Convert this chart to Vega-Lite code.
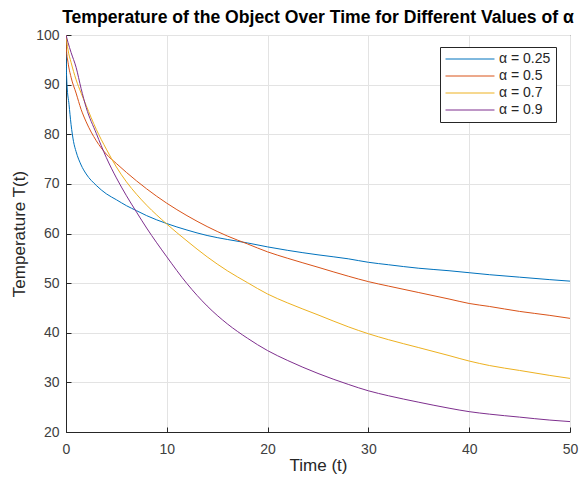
{
  "$schema": "https://vega.github.io/schema/vega-lite/v6.json",
  "autosize": {"type": "none"},
  "padding": {"left": 66, "top": 35, "right": 12, "bottom": 45},
  "width": 504,
  "height": 397,
  "background": "white",
  "config": {
    "font": "Liberation Sans",
    "view": {"stroke": "#262626", "strokeWidth": 1},
    "axis": {
      "gridColor": "#e3e3e3",
      "gridWidth": 1,
      "domainColor": "#262626",
      "tickColor": "#262626",
      "labelColor": "#404040",
      "titleColor": "#262626",
      "labelFontSize": 14,
      "titleFontSize": 17,
      "titleFontWeight": "normal",
      "labelFont": "Liberation Sans",
      "titleFont": "Liberation Sans",
      "labelFlush": false
    }
  },
  "title": {
    "text": "Temperature of the Object Over Time for Different Values of α",
    "fontSize": 17.6,
    "fontWeight": "bold",
    "font": "Liberation Sans",
    "color": "#000000",
    "anchor": "middle",
    "offset": 1
  },
  "data": {
    "values": [
      {"a": "α = 0.25", "t": 0, "T": 100},
      {"a": "α = 0.25", "t": 0.02, "T": 95},
      {"a": "α = 0.25", "t": 0.1, "T": 90},
      {"a": "α = 0.25", "t": 0.3, "T": 86},
      {"a": "α = 0.25", "t": 0.5, "T": 82},
      {"a": "α = 0.25", "t": 0.75, "T": 78.5},
      {"a": "α = 0.25", "t": 1, "T": 76.5},
      {"a": "α = 0.25", "t": 1.5, "T": 73.8},
      {"a": "α = 0.25", "t": 2, "T": 72},
      {"a": "α = 0.25", "t": 3, "T": 69.7},
      {"a": "α = 0.25", "t": 4, "T": 68},
      {"a": "α = 0.25", "t": 5, "T": 66.8},
      {"a": "α = 0.25", "t": 6, "T": 65.6},
      {"a": "α = 0.25", "t": 7, "T": 64.6},
      {"a": "α = 0.25", "t": 8, "T": 63.6},
      {"a": "α = 0.25", "t": 10, "T": 62},
      {"a": "α = 0.25", "t": 12, "T": 60.7},
      {"a": "α = 0.25", "t": 14, "T": 59.6},
      {"a": "α = 0.25", "t": 16, "T": 58.8},
      {"a": "α = 0.25", "t": 18, "T": 58.1},
      {"a": "α = 0.25", "t": 20, "T": 57.3},
      {"a": "α = 0.25", "t": 22, "T": 56.6},
      {"a": "α = 0.25", "t": 25, "T": 55.7},
      {"a": "α = 0.25", "t": 28, "T": 54.9},
      {"a": "α = 0.25", "t": 30, "T": 54.2},
      {"a": "α = 0.25", "t": 32, "T": 53.7},
      {"a": "α = 0.25", "t": 35, "T": 53},
      {"a": "α = 0.25", "t": 38, "T": 52.5},
      {"a": "α = 0.25", "t": 40, "T": 52.1},
      {"a": "α = 0.25", "t": 42, "T": 51.7},
      {"a": "α = 0.25", "t": 45, "T": 51.2},
      {"a": "α = 0.25", "t": 48, "T": 50.7},
      {"a": "α = 0.25", "t": 50, "T": 50.4},

      {"a": "α = 0.5", "t": 0, "T": 100},
      {"a": "α = 0.5", "t": 0.05, "T": 97},
      {"a": "α = 0.5", "t": 0.2, "T": 94.5},
      {"a": "α = 0.5", "t": 0.5, "T": 91.5},
      {"a": "α = 0.5", "t": 1, "T": 88.3},
      {"a": "α = 0.5", "t": 1.5, "T": 85},
      {"a": "α = 0.5", "t": 2, "T": 82.5},
      {"a": "α = 0.5", "t": 3, "T": 78.7},
      {"a": "α = 0.5", "t": 4, "T": 76.0},
      {"a": "α = 0.5", "t": 5, "T": 74.1},
      {"a": "α = 0.5", "t": 6, "T": 72.3},
      {"a": "α = 0.5", "t": 7, "T": 70.6},
      {"a": "α = 0.5", "t": 8, "T": 69.0},
      {"a": "α = 0.5", "t": 10, "T": 66.1},
      {"a": "α = 0.5", "t": 12, "T": 63.6},
      {"a": "α = 0.5", "t": 14, "T": 61.4},
      {"a": "α = 0.5", "t": 16, "T": 59.5},
      {"a": "α = 0.5", "t": 18, "T": 57.9},
      {"a": "α = 0.5", "t": 20, "T": 56.3},
      {"a": "α = 0.5", "t": 22, "T": 55},
      {"a": "α = 0.5", "t": 25, "T": 53.2},
      {"a": "α = 0.5", "t": 28, "T": 51.4},
      {"a": "α = 0.5", "t": 30, "T": 50.3},
      {"a": "α = 0.5", "t": 32, "T": 49.4},
      {"a": "α = 0.5", "t": 35, "T": 48.1},
      {"a": "α = 0.5", "t": 38, "T": 46.8},
      {"a": "α = 0.5", "t": 40, "T": 45.9},
      {"a": "α = 0.5", "t": 42, "T": 45.3},
      {"a": "α = 0.5", "t": 45, "T": 44.3},
      {"a": "α = 0.5", "t": 48, "T": 43.5},
      {"a": "α = 0.5", "t": 50, "T": 42.9},

      {"a": "α = 0.7", "t": 0, "T": 100},
      {"a": "α = 0.7", "t": 0.2, "T": 97},
      {"a": "α = 0.7", "t": 0.5, "T": 94.5},
      {"a": "α = 0.7", "t": 1, "T": 91},
      {"a": "α = 0.7", "t": 1.5, "T": 88.3},
      {"a": "α = 0.7", "t": 2, "T": 85.8},
      {"a": "α = 0.7", "t": 3, "T": 81},
      {"a": "α = 0.7", "t": 4, "T": 77},
      {"a": "α = 0.7", "t": 5, "T": 73.4},
      {"a": "α = 0.7", "t": 6, "T": 70.4},
      {"a": "α = 0.7", "t": 7, "T": 67.9},
      {"a": "α = 0.7", "t": 8, "T": 65.7},
      {"a": "α = 0.7", "t": 10, "T": 61.9},
      {"a": "α = 0.7", "t": 12, "T": 58.5},
      {"a": "α = 0.7", "t": 14, "T": 55.3},
      {"a": "α = 0.7", "t": 16, "T": 52.5},
      {"a": "α = 0.7", "t": 18, "T": 50.1},
      {"a": "α = 0.7", "t": 20, "T": 47.8},
      {"a": "α = 0.7", "t": 22, "T": 46},
      {"a": "α = 0.7", "t": 25, "T": 43.6},
      {"a": "α = 0.7", "t": 28, "T": 41.2},
      {"a": "α = 0.7", "t": 30, "T": 39.8},
      {"a": "α = 0.7", "t": 32, "T": 38.6},
      {"a": "α = 0.7", "t": 35, "T": 37},
      {"a": "α = 0.7", "t": 38, "T": 35.4},
      {"a": "α = 0.7", "t": 40, "T": 34.3},
      {"a": "α = 0.7", "t": 42, "T": 33.4},
      {"a": "α = 0.7", "t": 45, "T": 32.4},
      {"a": "α = 0.7", "t": 48, "T": 31.4},
      {"a": "α = 0.7", "t": 50, "T": 30.8},

      {"a": "α = 0.9", "t": 0, "T": 100},
      {"a": "α = 0.9", "t": 0.2, "T": 98.5},
      {"a": "α = 0.9", "t": 0.5, "T": 96.5},
      {"a": "α = 0.9", "t": 1, "T": 93.5},
      {"a": "α = 0.9", "t": 1.5, "T": 89.2},
      {"a": "α = 0.9", "t": 2, "T": 85.4},
      {"a": "α = 0.9", "t": 3, "T": 80.2},
      {"a": "α = 0.9", "t": 4, "T": 75.3},
      {"a": "α = 0.9", "t": 5, "T": 71.2},
      {"a": "α = 0.9", "t": 6, "T": 67.6},
      {"a": "α = 0.9", "t": 7, "T": 64.3},
      {"a": "α = 0.9", "t": 8, "T": 61.1},
      {"a": "α = 0.9", "t": 10, "T": 55.3},
      {"a": "α = 0.9", "t": 12, "T": 49.9},
      {"a": "α = 0.9", "t": 14, "T": 45.4},
      {"a": "α = 0.9", "t": 16, "T": 41.8},
      {"a": "α = 0.9", "t": 18, "T": 38.9},
      {"a": "α = 0.9", "t": 20, "T": 36.4},
      {"a": "α = 0.9", "t": 22, "T": 34.4},
      {"a": "α = 0.9", "t": 25, "T": 31.8},
      {"a": "α = 0.9", "t": 28, "T": 29.6},
      {"a": "α = 0.9", "t": 30, "T": 28.3},
      {"a": "α = 0.9", "t": 32, "T": 27.3},
      {"a": "α = 0.9", "t": 35, "T": 26},
      {"a": "α = 0.9", "t": 38, "T": 24.8},
      {"a": "α = 0.9", "t": 40, "T": 24.1},
      {"a": "α = 0.9", "t": 42, "T": 23.6},
      {"a": "α = 0.9", "t": 45, "T": 23},
      {"a": "α = 0.9", "t": 48, "T": 22.4},
      {"a": "α = 0.9", "t": 50, "T": 22.1}
    ]
  },
  "mark": {"type": "line", "strokeWidth": 1, "interpolate": "monotone", "clip": true},
  "encoding": {
    "x": {
      "field": "t", "type": "quantitative",
      "scale": {"domain": [0, 50], "nice": false, "zero": false},
      "axis": {"title": "Time (t)", "values": [0, 10, 20, 30, 40, 50], "tickSize": -5, "labelPadding": 15, "titlePadding": 1}
    },
    "y": {
      "field": "T", "type": "quantitative",
      "scale": {"domain": [20, 100], "nice": false, "zero": false},
      "axis": {"title": "Temperature T(t)", "values": [20, 30, 40, 50, 60, 70, 80, 90, 100], "tickSize": -5, "labelPadding": 12, "titlePadding": 7}
    },
    "color": {
      "field": "a", "type": "nominal",
      "scale": {"domain": ["α = 0.25", "α = 0.5", "α = 0.7", "α = 0.9"], "range": ["#0072BD", "#D95319", "#EDB120", "#7E2F8E"]},
      "legend": {
        "title": null,
        "orient": "none",
        "legendX": 374,
        "legendY": 12,
        "symbolType": "M-5,0H5",
        "symbolSize": 96,
        "symbolOffset": 18,
        "symbolStrokeWidth": 1,
        "labelFontSize": 14,
        "labelColor": "#262626",
        "labelFont": "Liberation Sans",
        "fillColor": "white",
        "strokeColor": "#262626",
        "padding": 5,
        "rowPadding": 3,
        "labelOffset": 22
      }
    }
  }
}
